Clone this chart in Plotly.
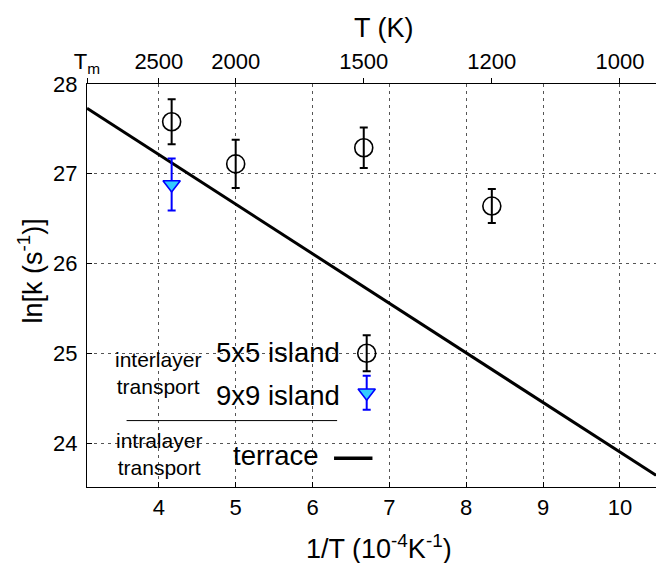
import plotly.graph_objects as go

# ---------------- data ----------------
T_5x5 = [2400, 2000, 1500, 1200]            # K
lnk_5x5 = [27.58, 27.11, 27.29, 26.64]
err_5x5 = [0.25, 0.27, 0.225, 0.19]

T_9x9 = [2400]
lnk_9x9 = [26.88]
err_9x9 = [0.29]

terrace_invT = [3.065, 10.47]               # 1e-4 / K
terrace_lnk = [27.73, 23.64]

bottom_ticks = [4, 5, 6, 7, 8, 9, 10]
top_T_ticks = [2500, 2000, 1500, 1200, 1000]
y_ticks = [24, 25, 26, 27, 28]

x_range = [3.065, 10.47]
y_range = [23.51, 28.0]

# ---------------- styling ----------------
FONT = "Liberation Sans, Arial, Helvetica, sans-serif"
BLACK = "#000000"
CYAN = "#33ccff"
BLUE = "#0000ff"

inv = lambda T: [1e4 / t for t in T]

fig = go.Figure()

# terrace line
fig.add_trace(go.Scatter(x=terrace_invT, y=terrace_lnk, mode="lines",
                         line=dict(color=BLACK, width=3), showlegend=False))

# 5x5 island
fig.add_trace(go.Scatter(x=inv(T_5x5), y=lnk_5x5, mode="markers",
                         marker=dict(symbol="circle-open", size=18,
                                     color=BLACK, line=dict(width=1.6, color=BLACK)),
                         error_y=dict(type="data", array=err_5x5, color=BLACK,
                                      thickness=2, width=4),
                         showlegend=False))

# 9x9 island
fig.add_trace(go.Scatter(x=inv(T_9x9), y=lnk_9x9, mode="markers",
                         marker=dict(symbol="triangle-down", size=15,
                                     color=CYAN, line=dict(width=1.6, color=BLUE)),
                         error_y=dict(type="data", array=err_9x9, color=BLUE,
                                      thickness=2, width=4),
                         showlegend=False))

# top-axis helper trace (invisible) so xaxis2 renders
fig.add_trace(go.Scatter(x=x_range, y=[None, None], xaxis="x2", yaxis="y",
                         mode="markers", showlegend=False, hoverinfo="skip"))

# ---------------- in-plot legend ----------------
LEG_X = 6.705
leg_circle = dict(y=25.0, err=0.2)
leg_tri = dict(y=24.56, err=0.19)

fig.add_trace(go.Scatter(x=[LEG_X], y=[leg_circle["y"]], mode="markers",
                         marker=dict(symbol="circle-open", size=18, color=BLACK,
                                     line=dict(width=1.6, color=BLACK)),
                         error_y=dict(type="data", array=[leg_circle["err"]], color=BLACK,
                                      thickness=2, width=4),
                         showlegend=False))
fig.add_trace(go.Scatter(x=[LEG_X], y=[leg_tri["y"]], mode="markers",
                         marker=dict(symbol="triangle-down", size=15, color=CYAN,
                                     line=dict(width=1.6, color=BLUE)),
                         error_y=dict(type="data", array=[leg_tri["err"]], color=BLUE,
                                      thickness=2, width=4),
                         showlegend=False))

shapes = [
    dict(type="line", xref="x", yref="y", x0=3.58, x1=6.32, y0=24.25, y1=24.25,
         line=dict(color=BLACK, width=1)),
    dict(type="line", xref="x", yref="y", x0=6.28, x1=6.78, y0=23.83, y1=23.83,
         line=dict(color=BLACK, width=3.5)),
]

annotations = [
    dict(text="5x5 island", x=6.39, y=25.01, xref="x", yref="y", xanchor="right",
         yanchor="middle", showarrow=False, font=dict(size=27.5, family=FONT, color=BLACK)),
    dict(text="9x9 island", x=6.39, y=24.53, xref="x", yref="y", xanchor="right",
         yanchor="middle", showarrow=False, font=dict(size=27.5, family=FONT, color=BLACK)),
    dict(text="terrace", x=6.11, y=23.86, xref="x", yref="y", xanchor="right",
         yanchor="middle", showarrow=False, font=dict(size=27.5, family=FONT, color=BLACK)),
    dict(text="interlayer<br>transport", x=3.99, y=24.78, xref="x", yref="y",
         xanchor="center", yanchor="middle", showarrow=False,
         font=dict(size=21, family=FONT, color=BLACK)),
    dict(text="intralayer<br>transport", x=4.0, y=23.88, xref="x", yref="y",
         xanchor="center", yanchor="middle", showarrow=False,
         font=dict(size=21, family=FONT, color=BLACK)),
    # axis titles
    dict(text="T (K)", x=0.5, y=1, xref="paper", yref="paper", xanchor="center",
         yanchor="middle", yshift=56, xshift=12, showarrow=False,
         font=dict(size=27, family=FONT, color=BLACK)),
    dict(text="1/T (10<sup>-4</sup>K<sup>-1</sup>)", x=0.5, y=0, xref="paper", yref="paper",
         xanchor="center", yanchor="middle", yshift=-60, xshift=7, showarrow=False,
         font=dict(size=27, family=FONT, color=BLACK)),
    dict(text="ln[k (s<sup>-1</sup>)]", x=0, y=0.5, xref="paper", yref="paper",
         xanchor="center", yanchor="middle", xshift=-57, yshift=14, textangle=-90,
         showarrow=False, font=dict(size=27, family=FONT, color=BLACK)),
]

top_vals = [x_range[0]] + inv(top_T_ticks)
top_text = ["T<sub>m</sub>"] + [str(t) for t in top_T_ticks]

grid = dict(showgrid=True, gridcolor="#555555", gridwidth=1, griddash="3px,4px")

fig.update_layout(
    width=656, height=563,
    margin=dict(l=87, r=0, t=84, b=76),
    plot_bgcolor="white", paper_bgcolor="white",
    font=dict(family=FONT, color=BLACK, size=22),
    showlegend=False,
    shapes=shapes, annotations=annotations,
    xaxis=dict(range=x_range, tickvals=bottom_ticks, ticks="inside", ticklen=5,
               tickcolor=BLACK, showline=True, linecolor=BLACK, linewidth=1.2,
               zeroline=False, tickfont=dict(size=22), ticklabelstandoff=0,
               automargin=False, mirror=False, **grid),
    xaxis2=dict(range=x_range, overlaying="x", side="top", anchor="y",
                tickvals=top_vals, ticktext=top_text, ticks="outside", ticklen=5,
                tickcolor=BLACK, showline=True, linecolor=BLACK, linewidth=1.2,
                showgrid=False, zeroline=False, tickfont=dict(size=22),
                automargin=False, ticklabelstandoff=0),
    yaxis=dict(range=y_range, tickvals=y_ticks, ticks="inside", ticklen=5,
               tickcolor=BLACK, showline=True, linecolor=BLACK, linewidth=1.2,
               zeroline=False, tickfont=dict(size=22), ticklabelstandoff=4,
               automargin=False, **grid),
)

fig.write_html("out.html", config={"displayModeBar": False},
               post_script="document.body.style.margin='0';document.body.style.padding='0';")
